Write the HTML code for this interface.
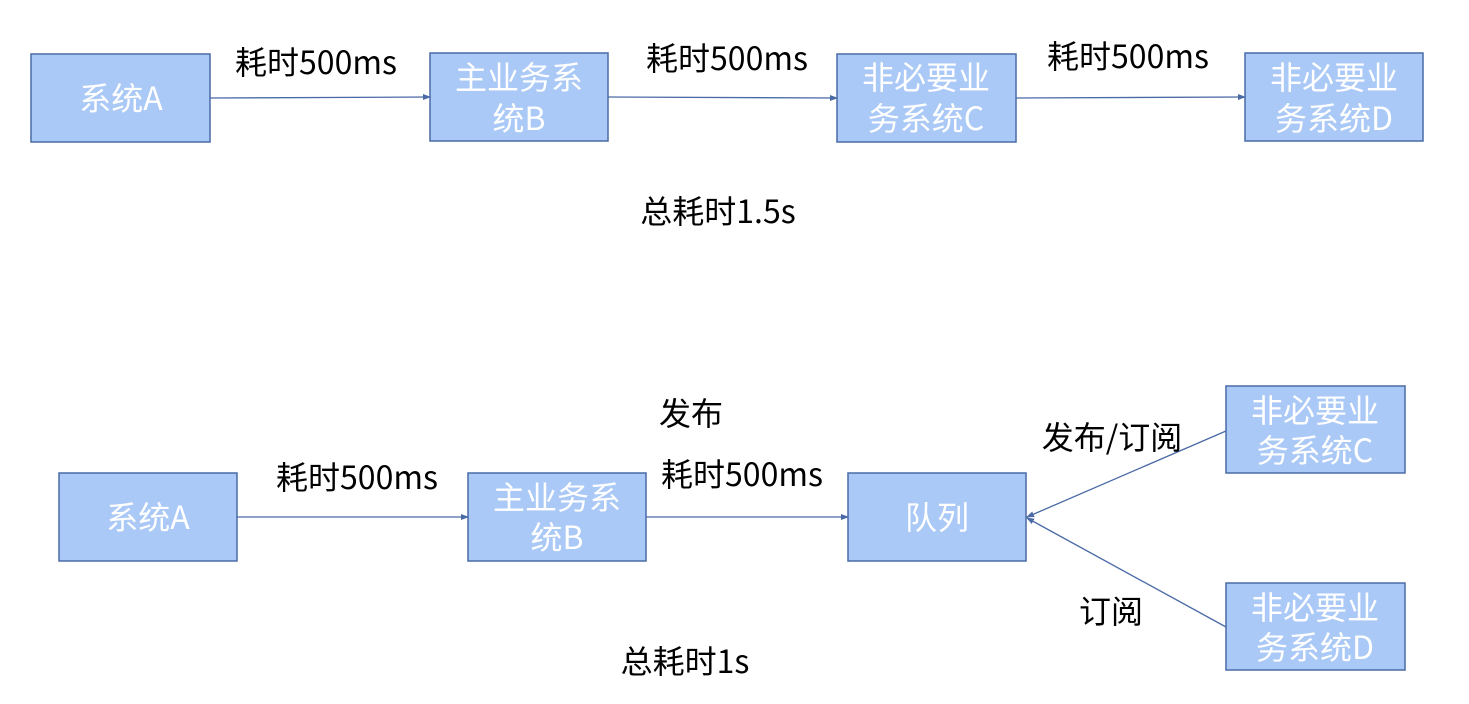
<!DOCTYPE html>
<html><head><meta charset="utf-8"><style>
html,body{margin:0;padding:0;background:#fff;}
svg{display:block}
text{font-family:"Noto Sans CJK SC","Liberation Sans",sans-serif;}
.b{fill:#aac9f6;stroke:#4a6aa6;stroke-width:1.5}
.w{fill:#fff;font-size:32px;text-anchor:middle}
.k{fill:#000;font-size:32px;text-anchor:middle}
.l{stroke:#4a6aa6;stroke-width:1.3;fill:none}
</style></head><body>
<svg width="1469" height="704" viewBox="0 0 1469 704">
<defs><marker id="a" markerWidth="8" markerHeight="8" refX="7" refY="4" orient="auto" markerUnits="userSpaceOnUse"><path d="M0,1 L8,4 L0,7 z" fill="#4a6aa6"/></marker></defs>
<rect class="b" x="31" y="54" width="179" height="88"/>
<text class="w" x="121" y="110">系统A</text>
<rect class="b" x="430" y="53" width="178" height="88"/>
<text class="w" x="519" y="89">主业务系</text><text class="w" x="519" y="130">统B</text>
<rect class="b" x="837" y="54" width="179" height="88"/>
<text class="w" x="926" y="89">非必要业</text><text class="w" x="926" y="130">务系统C</text>
<rect class="b" x="1245" y="53" width="178" height="88"/>
<text class="w" x="1334" y="89">非必要业</text><text class="w" x="1334" y="130">务系统D</text>
<line class="l" x1="210" y1="98" x2="430" y2="97" marker-end="url(#a)"/>
<line class="l" x1="608" y1="97" x2="837" y2="98" marker-end="url(#a)"/>
<line class="l" x1="1016" y1="98" x2="1245" y2="97" marker-end="url(#a)"/>
<text class="k" x="316" y="74">耗时500ms</text>
<text class="k" x="727" y="70">耗时500ms</text>
<text class="k" x="1128" y="68">耗时500ms</text>
<text class="k" x="718" y="223">总耗时1.5s</text>
<rect class="b" x="59" y="473" width="178" height="88"/>
<text class="w" x="148" y="529">系统A</text>
<rect class="b" x="468" y="473" width="178" height="88"/>
<text class="w" x="557" y="509">主业务系</text><text class="w" x="557" y="549">统B</text>
<rect class="b" x="848" y="473" width="178" height="88"/>
<text class="w" x="937" y="529">队列</text>
<rect class="b" x="1226" y="386" width="179" height="87"/>
<text class="w" x="1315" y="422">非必要业</text><text class="w" x="1315" y="462">务系统C</text>
<rect class="b" x="1226" y="583" width="179" height="87"/>
<text class="w" x="1315" y="619">非必要业</text><text class="w" x="1315" y="659">务系统D</text>
<line class="l" x1="237" y1="517" x2="468" y2="517" marker-end="url(#a)"/>
<line class="l" x1="646" y1="517" x2="848" y2="517" marker-end="url(#a)"/>
<line class="l" x1="1226" y1="431" x2="1027" y2="517" marker-end="url(#a)"/>
<line class="l" x1="1226" y1="627" x2="1027" y2="518" marker-end="url(#a)"/>
<text class="k" x="691" y="425">发布</text>
<text class="k" x="357" y="489">耗时500ms</text>
<text class="k" x="742" y="486">耗时500ms</text>
<text class="k" x="1112" y="449">发布/订阅</text>
<text class="k" x="1111" y="623">订阅</text>
<text class="k" x="685" y="673">总耗时1s</text>
</svg>
</body></html>
